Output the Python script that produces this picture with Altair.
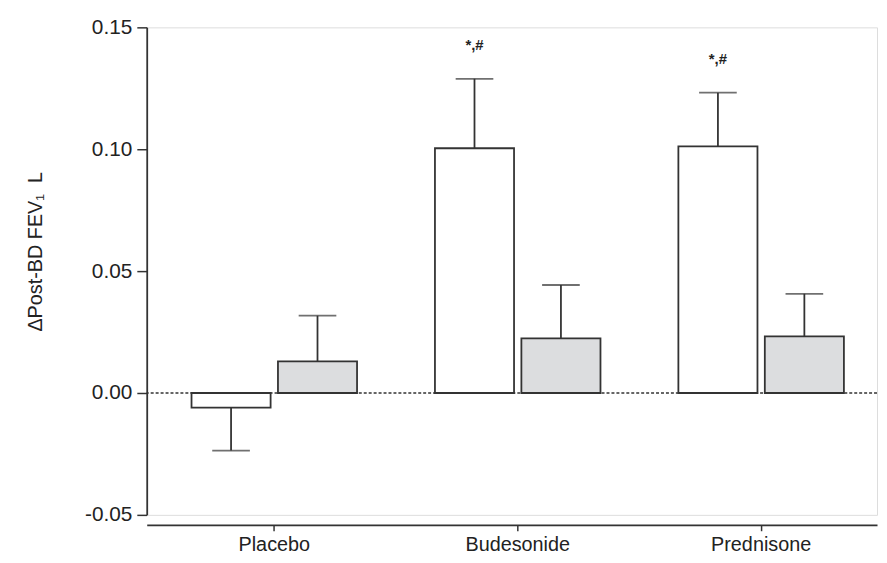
import altair as alt
import pandas as pd

groups = ["Placebo", "Budesonide", "Prednisone"]
series = ["Pre", "Post"]
white_mean = [-0.006, 0.1004, 0.1012]
white_err = [0.0176, 0.0285, 0.0220]
gray_mean = [0.013, 0.0224, 0.0232]
gray_err = [0.0187, 0.0219, 0.0175]
annot = ["", "*,#", "*,#"]
y_ticks = [-0.05, 0.0, 0.05, 0.10, 0.15]

rows = []
for i, g in enumerate(groups):
    for s, m, e in ((series[0], white_mean[i], white_err[i]), (series[1], gray_mean[i], gray_err[i])):
        sign = 1 if m >= 0 else -1
        rows.append({"group": g, "series": s, "mean": m, "end": m + sign * e,
                     "annot": annot[i] if s == series[0] else ""})
df = pd.DataFrame(rows)

ink = "#333333"
x_enc = alt.X("group:N", sort=groups,
              scale=alt.Scale(domain=groups, paddingInner=0.32, paddingOuter=0.16, align=0.575),
              axis=alt.Axis(title=None, labelAngle=0, labelFontSize=20, labelColor="#222222",
                            labelFont="Liberation Sans", tickSize=6, tickColor=ink, tickWidth=1.5,
                            domainColor=ink, domainWidth=1.8, offset=10, labelPadding=4))
xo_enc = alt.XOffset("series:N", sort=series,
                     scale=alt.Scale(domain=series, paddingInner=0.085, paddingOuter=0))
y_scale = alt.Scale(domain=[-0.05, 0.15], nice=False, zero=False)

base = alt.Chart(df)

zero_line = alt.Chart(pd.DataFrame({"y": [0.0]})).mark_rule(
    color=ink, strokeWidth=1.5, strokeDash=[3, 2]
).encode(y=alt.Y("y:Q", scale=y_scale))

bars = base.mark_bar(stroke=ink, strokeWidth=1.8).encode(
    x=x_enc,
    xOffset=xo_enc,
    y=alt.Y("mean:Q", scale=y_scale,
            axis=alt.Axis(values=y_ticks, grid=False, tickSize=10, tickColor=ink,
                          labelExpr="datum.value < 0 ? '-' + format(abs(datum.value), '.2f') : format(datum.value, '.2f')",
                          tickWidth=1.5, domainColor=ink, domainWidth=1.8, labelFontSize=21,
                          labelColor="#222222", labelFont="Liberation Sans", labelPadding=5,
                          title="ΔPost-BD FEV₁\u00a0\u00a0L", titleFontSize=20, titleFont="Liberation Sans",
                          titleFontWeight="normal", titleColor="#222222",
                          titleX=-102, titleY=226)),
    y2="y0:Q",
    fill=alt.Fill("series:N", sort=series,
                  scale=alt.Scale(domain=series, range=["#ffffff", "#dcdddf"]), legend=None),
).transform_calculate(y0="0")

err_rule = base.mark_rule(color=ink, strokeWidth=1.8).encode(
    x=alt.X("group:N", sort=groups), xOffset=xo_enc,
    y=alt.Y("mean:Q", scale=y_scale), y2="end:Q")

caps = base.mark_tick(color=ink, thickness=1.8, size=38, orient="horizontal").encode(
    x=alt.X("group:N", sort=groups), xOffset=xo_enc,
    y=alt.Y("end:Q", scale=y_scale))

texts = base.mark_text(fontSize=15, color="#222222", dy=-34, font="Liberation Sans",
                       fontWeight="bold").encode(
    x=alt.X("group:N", sort=groups), xOffset=xo_enc,
    y=alt.Y("end:Q", scale=y_scale), text="annot:N")

chart = alt.layer(zero_line, bars, err_rule, caps, texts).properties(
    width=737, height=492,
    autosize=alt.AutoSizeParams(type="none"),
    padding={"left": 140, "top": 17, "right": 2, "bottom": 42},
).configure_view(strokeWidth=0).configure(background="white")

chart.save("out.html", embed_options={"renderer": "svg", "actions": False})
